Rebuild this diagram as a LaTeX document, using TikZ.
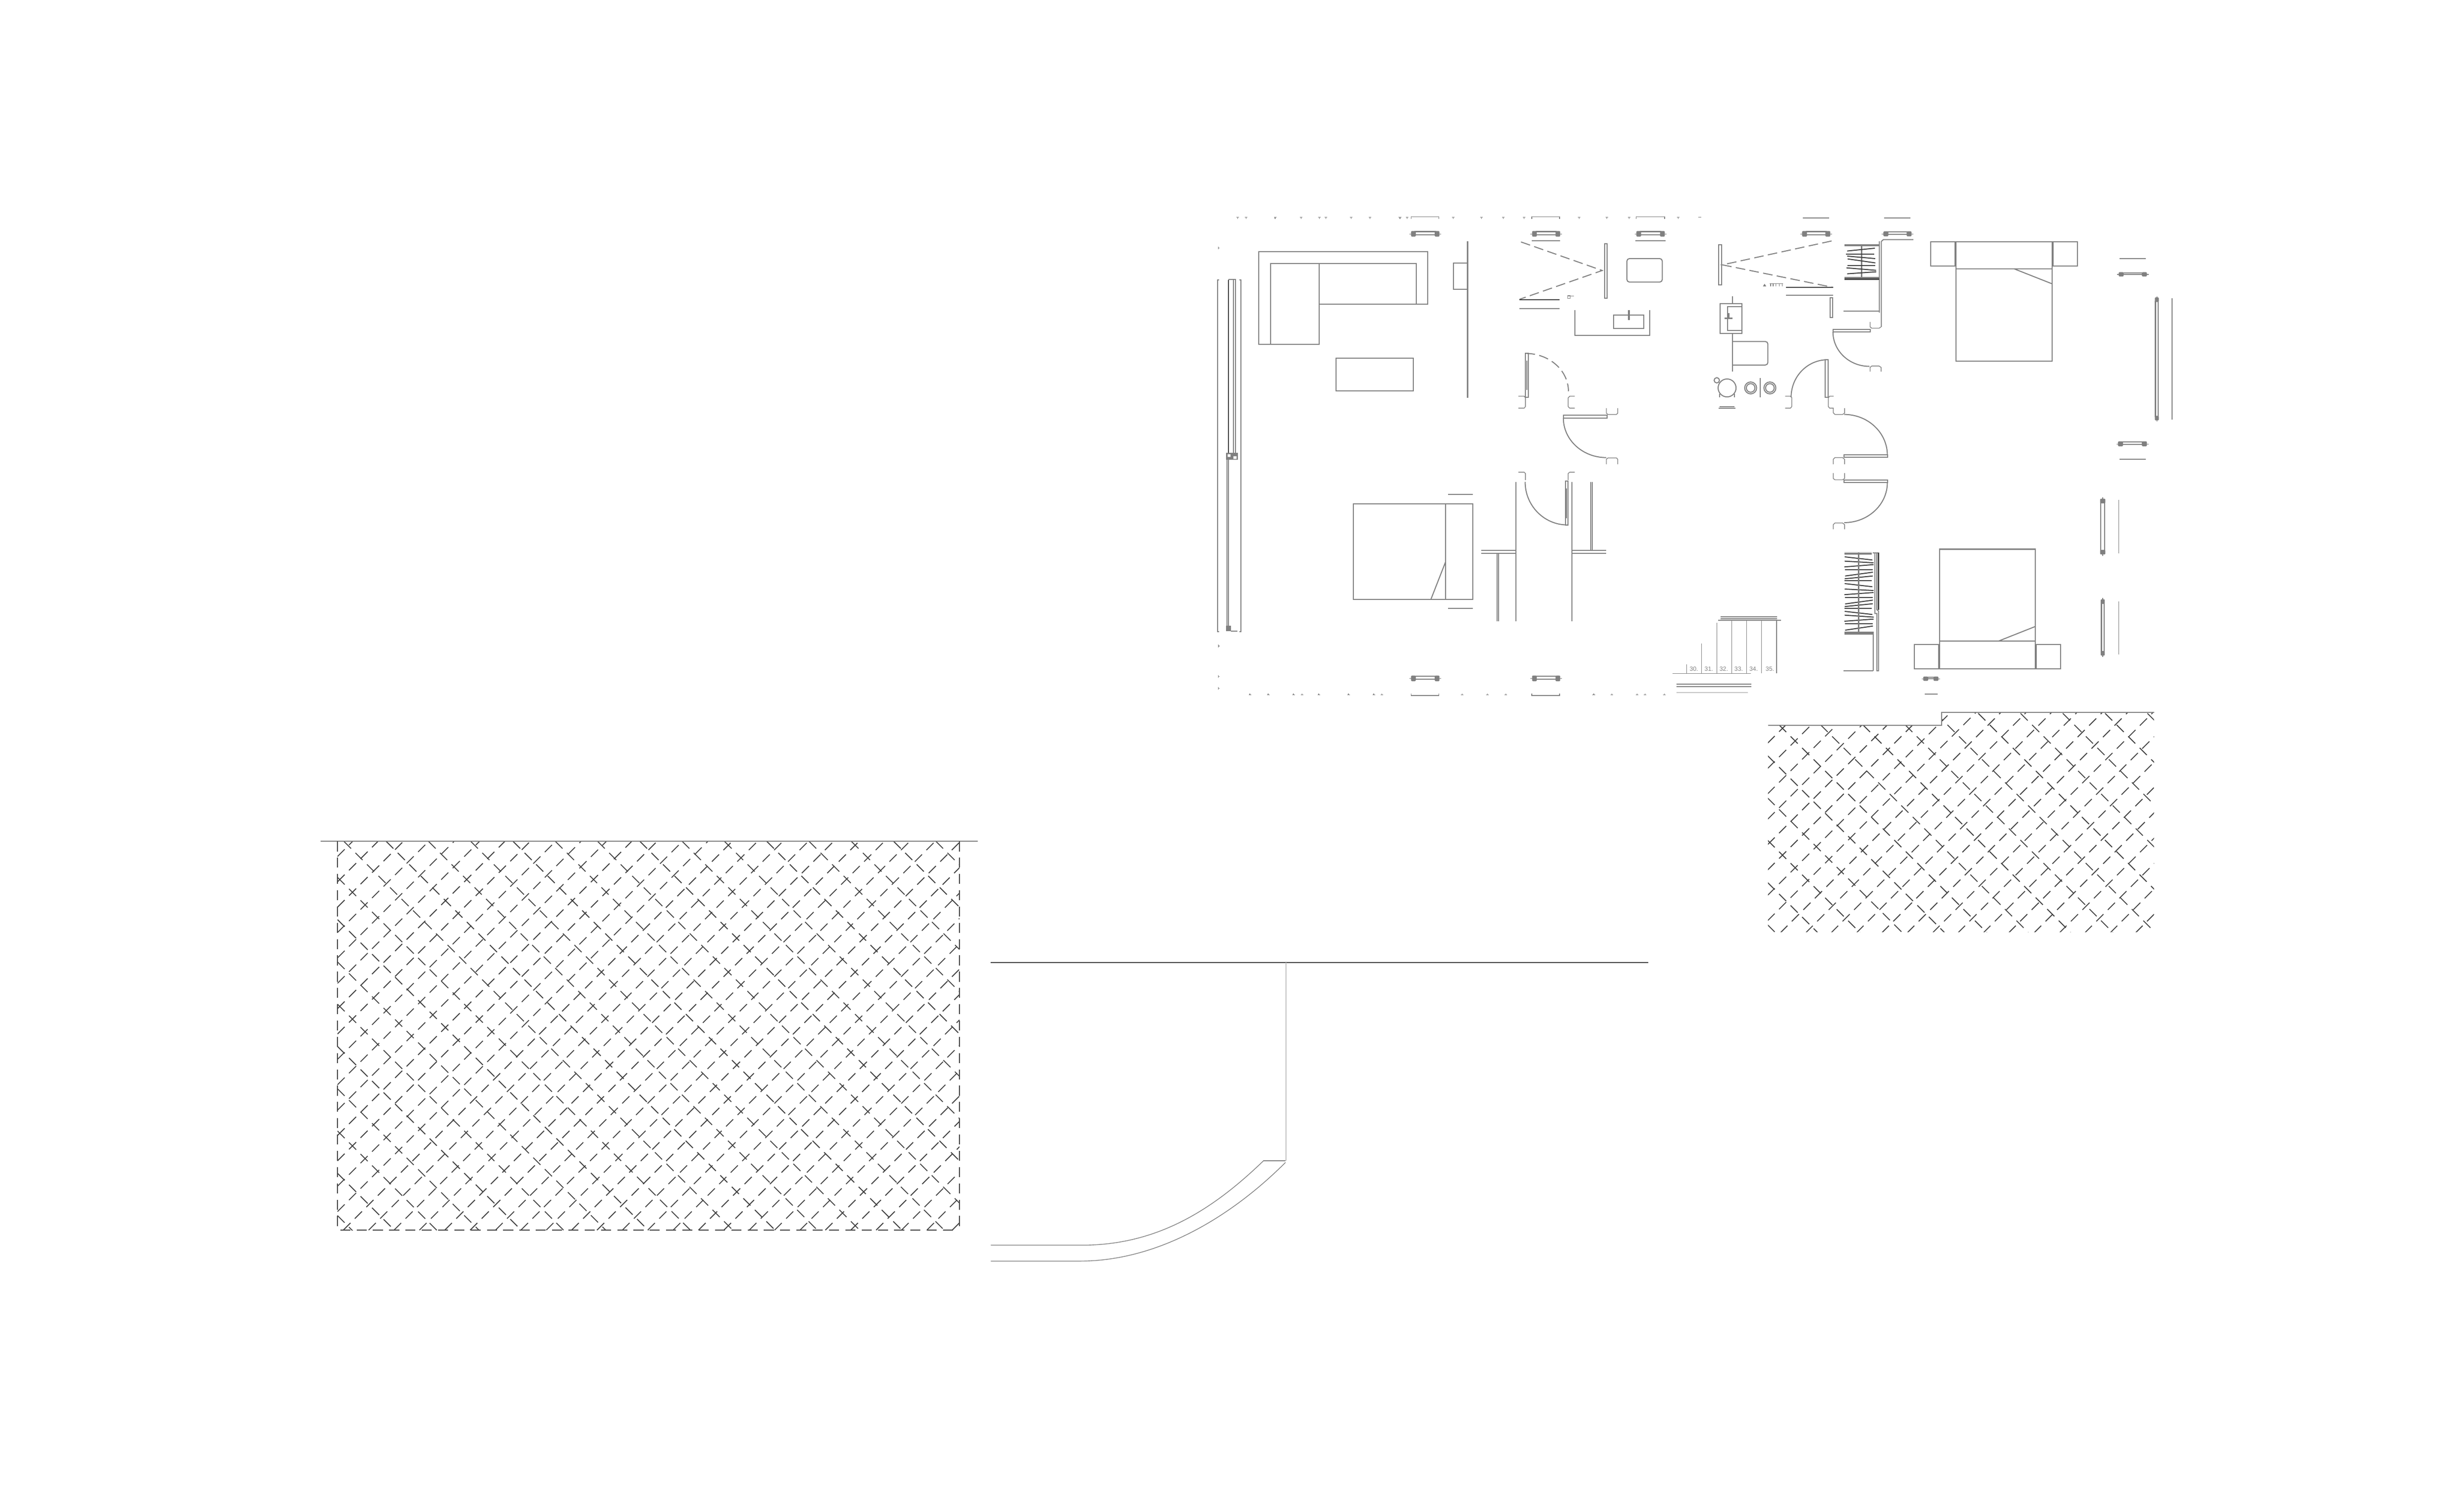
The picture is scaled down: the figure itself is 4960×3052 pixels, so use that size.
\documentclass[tikz,border=0pt]{standalone}
\usepackage{fontspec}
\setmainfont{Liberation Sans}
\usetikzlibrary{calc}
\definecolor{pg}{HTML}{808080}
\definecolor{dk}{HTML}{404040}
\definecolor{lt}{HTML}{C4C4C4}
\tikzset{
  pl/.style={draw=pg,line width=1.15pt},
  plthin/.style={draw=pg,line width=.8pt},
  dk1/.style={draw=dk,line width=1.15pt},
  hatchline/.style={draw=dk,line width=1.05pt,dash pattern=on 11.62pt off 7.09pt},
  edgedash/.style={draw=dk,line width=1.15pt,dash pattern=on 11.5pt off 7.21pt},
  swing/.style={draw=pg,line width=1.15pt,dash pattern=on 11pt off 5pt},
  hang/.style={draw=dk,line width=1.15pt},
  tick/.style={draw=pg,line width=.7pt},
  stairnum/.style={text=pg,font=\fontsize{7}{8}\selectfont,inner sep=0pt}
}
% quarter arc: start, corner, end
\newcommand\qarc[4][pl]{\draw[#1] (#2) .. controls ($(#2)!.5523!(#3)$) and ($(#4)!.5523!(#3)$) .. (#4);}
% horizontal window symbol: x1 x2 y halfwidth
\newcommand\winH[4]{%
  \draw[pl,line width=1.3pt] (#1+16,#3-#4-1)--(#2-16,#3-#4-1) (#1+16,#3+#4-2)--(#2-16,#3+#4-2);
  \draw[plthin] (#1,#3+1)--(#1+10,#3+1) (#2-10,#3+1)--(#2,#3+1);
  \fill[pg,rounded corners=1.2pt] (#1+5,#3-#4-3) rectangle (#1+20,#3+#4+4) (#2-20,#3-#4-3) rectangle (#2-5,#3+#4+4);}
% vertical window symbol: x y1 y2 halfwidth
\newcommand\winV[4]{%
  \draw[pl,line width=1.3pt] (#1-#4,#2+14)--(#1-#4,#3-14) (#1+#4,#2+14)--(#1+#4,#3-14);
  \draw[plthin] (#1,#2)--(#1,#2+8) (#1,#3-8)--(#1,#3);
  \fill[pg,rounded corners=1.2pt] (#1-#4-2,#2+4) rectangle (#1+#4+2,#2+18) (#1-#4-2,#3-18) rectangle (#1+#4+2,#3-4);}
\begin{document}
\begin{tikzpicture}[x=0.02cm,y=-0.02cm]
\useasboundingbox (0,0) rectangle (4960,3052);

% ---------- left hatch field
\begin{scope}
\clip (680.9,1697.7) rectangle (1936,2483);
\foreach \k in {0,...,14}
  \draw[hatchline] (694+\k*85.33,1698.3) -- ++(1300,1300);
\foreach \k in {1,...,9}
  \draw[hatchline] (681,1685.6+\k*85.33) -- ++(1300,1300);
\foreach \j in {-1,...,13}
  \draw[hatchline] (681,1780+\j*51.2) -- ++(1300,-1300);
\foreach \i in {-18,...,6}
  \draw[hatchline] (1614.3+\i*51.2,2483) -- ++(1300,-1300);
\end{scope}
\draw[pl] (647,1697.7) -- (1973,1697.7);
\draw[edgedash] (681,1698.3) -- (681,2483);
\draw[edgedash] (1935.7,1698.3) -- (1935.7,2483);
\draw[edgedash] (1742.7-33*32,2483) -- (1930,2483);

% ---------- right hatch field
\begin{scope}
\clip (3567.6,1464.3) -- (3917.7,1464.3) -- (3917.7,1437.7) -- (4346.5,1437.7) -- (4346.5,1881.7) -- (3567.6,1881.7) -- cycle;
\foreach \k in {-2,...,3}
  \draw[hatchline] (3566.7,1610.6+\k*85.33) -- ++(900,900);
\foreach \i in {1,...,9}
  \draw[hatchline] (3565.2+\i*85.33,1439.9) -- ++(900,900);
\foreach \j in {-5,...,3}
  \draw[hatchline] (3566.7,1705+\j*51.2) -- ++(900,-900);
\foreach \i in {-3,...,12}
  \draw[hatchline] (3746+\i*51.2,1883) -- ++(900,-900);
\end{scope}
\draw[pl] (3567.6,1464.3) -- (3917.7,1464.3) -- (3917.7,1437.7) -- (4346.5,1437.7);

% ---------- enlarged door (zoom coordinates)
\begin{scope}[shift={(1960,1900)},xscale=0.89286,yscale=0.44643]
\draw[draw=dk,line width=1.2pt] (44,97) -- (1530,97);
\draw[draw=lt,line width=.8pt] (711,97) -- (711,992);
\draw[plthin,line width=1.2pt] (660,993) -- (710,993);
\draw[plthin] (44,1374) -- (250,1374) .. controls (420,1374) and (545,1215) .. (660,993);
\draw[plthin] (44,1446) -- (245,1446) .. controls (425,1446) and (590,1240) .. (710,1000);
\end{scope}

% ---------- plan, left part (zoom coordinates)
\begin{scope}[shift={(2420,400)},xscale=0.63776,yscale=0.66964]
\foreach \x in {122,148,240,322,380,400,480,540,635,658,803,893,962,1028,1202,1290,1360,1515}
  \draw[tick] (\x-4,58) -- (\x+4,58) (\x,58) -- (\x,62);
\foreach \x in {160,218,298,325,378,472,552,578,832,912,970,1248,1305,1385,1410,1472}
  \draw[tick] (\x-4,1497) -- (\x+4,1497) (\x,1497) -- (\x,1493);
\foreach \y in {150,1350,1442,1478}
  \draw[tick] (60,\y-4) -- (60,\y+4) (60,\y) -- (64,\y);
\foreach \a/\b in {670/758,1052/1140,1382/1472}
  \draw[plthin] (\a,62) -- (\a,56) -- (\b,56) -- (\b,62);
\foreach \a/\b in {670/758,1052/1140}
  \draw[plthin] (\a,1493) -- (\a,1499) -- (\b,1499) -- (\b,1493);
\winH{665}{765}{107}{5}
\winH{1048}{1147}{107}{5}
\winH{1378}{1478}{107}{5}
\winH{665}{765}{1447}{5}
\winH{1048}{1147}{1447}{5}
\draw[pl] (1052,128) -- (1142,128) (1380,128) -- (1475,128);
% long window on the left wall
\draw[pl] (62,247) -- (58,247) -- (58,1307) -- (62,1307);
\draw[pl] (127,247) -- (131,247) -- (131,1307) -- (127,1307);
\draw[dk1] (92,247) -- (92,770);
\draw[pl] (92,245) -- (115,245) -- (115,770) (108,245) -- (108,770);
\draw[pl] (87,788) -- (87,1300) (93,788) -- (93,1300);
\draw[pl] (100,1305) -- (120,1305);
\fill[pg] (85,1288) rectangle (100,1305);
\fill[pg] (85,768) rectangle (122,788);
\fill[white] (90,772) rectangle (99,780) (108,778) rectangle (118,786);
% sofa, table, wall
\draw[pl] (188,161) -- (723,161) -- (723,319) -- (380,319) -- (380,440) -- (188,440) -- cycle;
\draw[pl] (226,440) -- (226,197) -- (686,197) -- (686,319) (380,197) -- (380,319);
\draw[pl] (433,483) rectangle (677,581);
\draw[pl] (849,130) -- (849,602);
\draw[pl] (849,195) -- (805,195) -- (805,275) -- (849,275);
% bathroom 1
\draw[swing] (1018,132) -- (1275,218) -- (1013,305);
\draw[pl] (1283,138) rectangle (1291,301);
\draw[dk1] (1013,306) -- (1140,306);
\draw[pl] (1013,333) -- (1140,333);
\draw[plthin] (1166,294) rectangle (1174,302) (1174,295) -- (1186,295);
\draw[pl,rounded corners=3pt] (1353,182) -- (1465,182) -- (1465,253) -- (1353,253) -- cycle;
\draw[pl] (1189,337) -- (1189,413) -- (1426,413) -- (1426,337);
\draw[pl] (1311,352) rectangle (1407,393);
\draw[pl,line width=2pt] (1359,337) -- (1359,368);
% door 1
\draw[pl] (1032,468) rectangle (1041,600) (1036,490) -- (1036,578);
\qarc[swing]{1032,468}{1168,468}{1168,582}
\draw[plthin] (1010,597) -- (1028,597) -- (1032,602) -- (1032,628) -- (1028,633) -- (1010,633);
\draw[plthin] (1188,597) -- (1172,597) -- (1167,602) -- (1167,628) -- (1172,633) -- (1188,633);
% door 2
\draw[pl] (1152,654) rectangle (1290,663);
\qarc{1152,663}{1152,782}{1288,782}
\draw[plthin] (1288,633) -- (1288,648) -- (1293,652) -- (1320,652) -- (1324,648) -- (1324,633);
\draw[plthin] (1288,802) -- (1288,787) -- (1293,783) -- (1320,783) -- (1324,787) -- (1324,802);
% door 3
\draw[plthin] (1010,826) -- (1028,826) -- (1032,830) -- (1032,850);
\draw[plthin] (1188,826) -- (1172,826) -- (1167,830) -- (1167,850);
\qarc{1031,855}{1031,985}{1165,985}
\draw[pl] (1158,853) rectangle (1166,985) (1162,875) -- (1162,965);
% corridor walls
\draw[pl] (1002,856) -- (1002,1275) (1179,856) -- (1179,1275);
\draw[pl] (1238,856) -- (1238,1062) (1243,856) -- (1243,1062);
\draw[pl] (942,1070) -- (942,1275) (947,1070) -- (947,1275);
\draw[pl] (892,1062) -- (1002,1062) (892,1070) -- (1002,1070);
\draw[pl] (1179,1062) -- (1288,1062) (1179,1070) -- (1288,1070);
% bed
\draw[pl] (488,921) rectangle (865,1209);
\draw[pl] (779,921) -- (779,1209) (779,1097) -- (733,1209);
\draw[pl] (787,893) -- (865,893) (787,1237) -- (865,1237);
\end{scope}

% ---------- plan, right part (zoom coordinates)
\begin{scope}[shift={(3400,400)},scale=0.66964]
\draw[tick] (41,58) -- (49,58);
\draw[pl] (355,60) -- (435,60) (600,60) -- (680,60);
\winH{348}{443}{107}{5}
\winH{593}{688}{107}{4}
\draw[swing] (442,129) -- (113,201) -- (447,269);
\draw[pl] (101,141) rectangle (111,261);
\draw[dk1] (305,269) -- (447,269);
\draw[pl] (305,292) -- (447,292);
\draw[pl] (437,300) rectangle (445,360);
\fill[pg] (235,266) -- (240,258) -- (245,266) -- cycle;
\draw[plthin] (255,258) -- (295,258) (258,258) -- (258,266) (266,258) -- (266,266) (274,258) -- (274,266) (284,258) -- (284,266) (293,258) -- (293,266);
% wardrobe top walls
\draw[pl] (478,341) -- (585,341);
\draw[pl] (586,130) -- (586,345) (592,130) -- (592,388) (592,130) -- (598,125) -- (688,125);
% door under wardrobe
\draw[pl] (446,395) rectangle (558,403);
\qarc{446,403}{446,507}{556,507}
\draw[plthin] (558,373) -- (558,388) -- (563,392) -- (585,392) -- (591,388);
\draw[plthin] (558,523) -- (558,510) -- (563,506) -- (585,506) -- (591,510) -- (591,523);
% bathroom 2
\draw[pl] (144,296) -- (144,318) (144,408) -- (144,522);
\draw[pl] (106,318) rectangle (171,407);
\draw[pl] (171,327) -- (128,327) -- (128,398) -- (171,398);
\draw[pl,line width=1.6pt] (120,362) -- (143,362) (132,347) -- (132,362);
\draw[pl,rounded corners=3pt] (144,432) -- (250,432) -- (250,503) -- (144,503);
\draw[pl] (127,572) circle[radius=27] (96,549) circle[radius=8];
\draw[pl] (198,572) circle[radius=18] (198,572) circle[radius=13];
\draw[pl] (256,572) circle[radius=18] (256,572) circle[radius=13];
\draw[pl] (227,542) -- (227,600);
\draw[pl] (105,590) -- (105,600) (149,590) -- (149,600);
\draw[pl] (105,629) -- (150,629) (101,633) -- (153,633);
% door
\qarc{430,487}{320,487}{320,600}
\draw[pl] (422,487) rectangle (432,600);
\draw[plthin] (302,597) -- (318,597) -- (322,601) -- (322,628) -- (318,633) -- (302,633);
\draw[plthin] (448,597) -- (436,597) -- (432,602) -- (432,628) -- (436,633) -- (448,633);
% doors on the right
\qarc{480,652}{610,652}{610,775}
\draw[pl] (480,773) rectangle (610,781);
\draw[plthin] (447,633) -- (447,647) -- (452,652) -- (475,652) -- (481,648) -- (481,633);
\draw[plthin] (447,802) -- (447,787) -- (452,782) -- (475,782) -- (481,787) -- (481,802);
\draw[pl] (480,850) rectangle (610,857);
\qarc{610,857}{610,978}{480,978}
\draw[plthin] (447,829) -- (447,845) -- (452,849) -- (475,849) -- (481,845) -- (481,829);
\draw[plthin] (447,998) -- (447,984) -- (452,979) -- (475,979) -- (481,984) -- (481,998);
% beds
\draw[pl] (817,131) rectangle (1106,491);
\draw[pl] (817,213) -- (1106,213) (992,213) -- (1106,258);
\draw[pl] (740,131) rectangle (814,204) (1109,131) rectangle (1182,204);
\draw[pl] (768,1058) rectangle (1056,1418);
\draw[pl] (768,1335) -- (1056,1335) (945,1335) -- (1056,1291);
\draw[pl] (691,1346) rectangle (765,1418) (1058,1346) rectangle (1132,1418);
% windows on the right
\draw[pl] (1310,182) -- (1388,182) (1310,787) -- (1388,787);
\winH{1302}{1397}{229}{3}
\winH{1300}{1397}{740}{4}
\winV{1422}{295}{674}{4}
\draw[plthin] (1468,302) -- (1468,668);
\winV{1259}{902}{1078}{6}
\draw[plthin] (1307,910) -- (1307,1070);
\winV{1259}{1205}{1383}{4}
\draw[plthin] (1307,1215) -- (1307,1375);
\winH{713}{769}{1448}{3}
\draw[pl] (723,1495) -- (762,1495);
% stairs
\draw[pl] (108,1262) -- (278,1262) (108,1268) -- (278,1268) (100,1272) -- (290,1272);
\draw[plthin] (5,1405) -- (5,1432) (50,1342) -- (50,1432) (96,1280) -- (96,1432) (141,1272) -- (141,1432) (186,1272) -- (186,1432) (231,1272) -- (231,1432) (276,1272) -- (276,1432);
\draw[plthin] (-38,1433) -- (198,1433);
\draw[pl] (-25,1465) -- (200,1465) (-25,1473) -- (200,1473);
\draw[draw=lt,line width=1.15pt] (-25,1490) -- (190,1490);
\node[stairnum] (s30) at (27,1419) {30.};
\node[stairnum] (s31) at (72,1419) {31.};
\node[stairnum] (s32) at (117,1419) {32.};
\node[stairnum] (s33) at (162,1419) {33.};
\node[stairnum] (s34) at (207,1419) {34.};
\node[stairnum] (s35) at (256,1419) {35.};
\end{scope}

% ---------- upper wardrobe (3x zoom coordinates)
\begin{scope}[shift={(3700,470)},scale=0.33333]
\fill[pg] (65,68) rectangle (275,80);
\fill[pg] (65,268) rectangle (275,276);
\fill[dk] (65,276) rectangle (275,285);
\draw[pl,line width=1.6pt] (170,80) -- (170,268);
\foreach \a/\b/\c/\d in {82/110/250/93,76/129/245/129,82/141/252/156,85/158/253/182,84/197/252/197,78/212/257/227,82/248/258/236}
  \draw[hang] (\a,\b) -- (\c,\d);
\end{scope}

% ---------- lower wardrobe (3x zoom coordinates)
\begin{scope}[shift={(3700,1100)},scale=0.33333]
\foreach \a/\b/\c/\d in {65/54/230/54,67/72/235/91,67/98/242/108,65/133/242/119,68/149/238/149,70/188/238/165,67/205/237/188,65/216/230/216,67/234/235/253,67/267/242/276,65/301/242/288,68/318/238/318,70/357/238/334,67/373/237/356,65/385/230/385,67/402/235/421,67/425/243/437,65/462/242/449,68/477/238/477,70/516/238/491}
  \draw[hang] (\a,\b) -- (\c,\d);
\draw[pl,line width=1.7pt] (150,47) -- (150,525);
\fill[pg] (65,525) rectangle (242,542);
\draw[plthin] (65,47) -- (230,47);
\draw[pl] (238,47) -- (275,47);
\draw[pl] (250,47) -- (250,415) -- (262,415) -- (262,762) -- (272,762) -- (272,400) -- (262,393);
\draw[pl] (262,47) -- (262,393);
\draw[dk1,line width=1.5pt] (272,47) -- (272,393);
\draw[pl] (240,542) -- (240,762);
\draw[plthin] (60,762) -- (240,762);
\end{scope}
\end{tikzpicture}
\end{document}
